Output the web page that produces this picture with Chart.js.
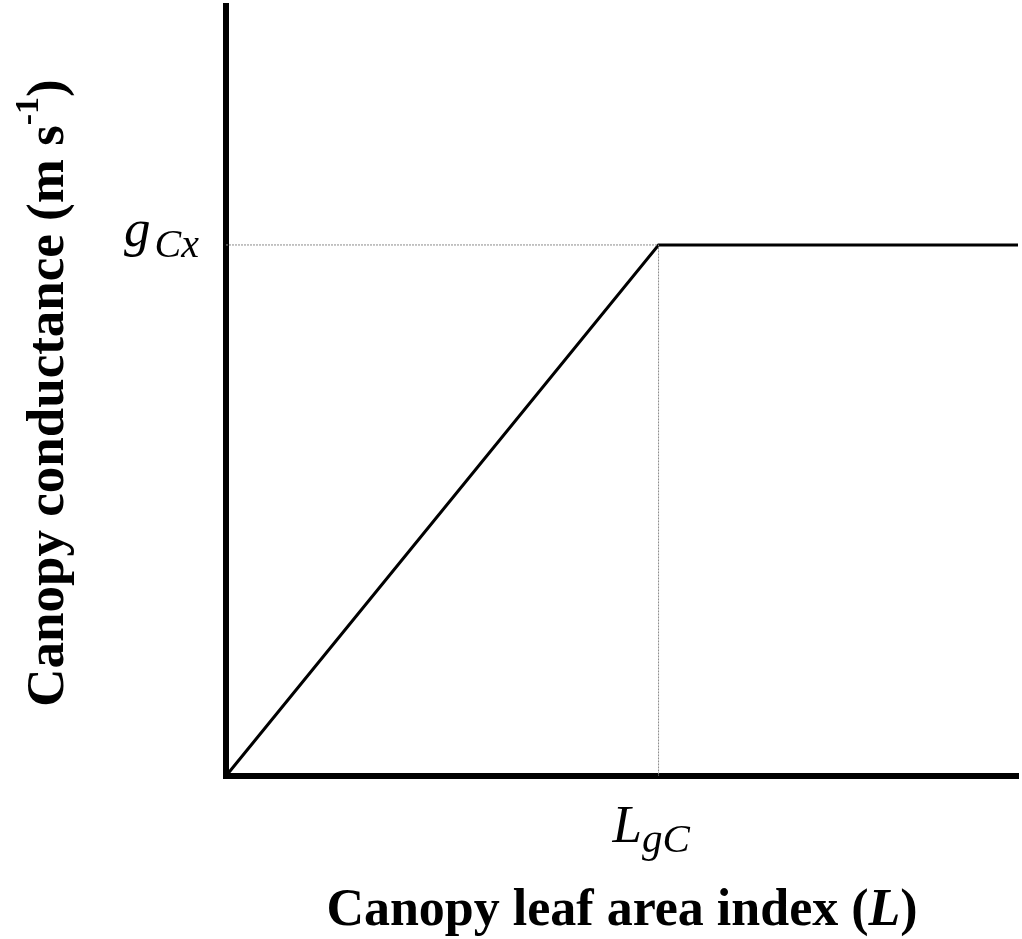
<!DOCTYPE html>
<html>
<head>
<meta charset="utf-8">
<script src="https://cdn.jsdelivr.net/npm/chart.js@4.4.0/dist/chart.umd.min.js"></script>
<style>
  html, body { margin: 0; padding: 0; background: #fff; }
  #wrap { width: 1022px; height: 939px; }
</style>
</head>
<body>
<div id="wrap"><canvas id="chart" width="1022" height="939"></canvas></div>
<script>
// leaf area index, in units of L_gC
const lai = [0, 1, 1.831];
// canopy conductance, in units of g_Cx
const conductance = [0, 1, 1];
// guide lines to the break point
const guideX = [0, 1, 1];
const guideY = [1, 1, 0];

const xMax = 1.831;
const yMax = 1.45;

const serif = '"Liberation Serif", "Times New Roman", serif';

function toPoints(xs, ys) {
  return xs.map((x, i) => ({ x, y: ys[i] }));
}

// axis labels with sub/superscripts drawn by hand
const labelPlugin = {
  id: 'labels',
  afterDraw(chart) {
    const ctx = chart.ctx;
    const xs = chart.scales.x;
    const ys = chart.scales.y;
    ctx.save();
    ctx.fillStyle = '#000';
    ctx.textBaseline = 'alphabetic';
    ctx.textAlign = 'left';

    // g_Cx on the y axis
    const gy = ys.getPixelForValue(1);
    ctx.font = 'italic 53px ' + serif;
    const gW = ctx.measureText('g').width;
    ctx.font = 'italic 40px ' + serif;
    const cxW = ctx.measureText('Cx').width;
    let x0 = xs.left - 27 - gW - cxW - 4;
    ctx.font = 'italic 53px ' + serif;
    ctx.fillText('g', x0, gy + 1);
    ctx.font = 'italic 40px ' + serif;
    ctx.fillText('Cx', x0 + gW + 4, gy + 12);

    // L_gC on the x axis
    const lx = xs.getPixelForValue(1);
    ctx.font = 'italic 53px ' + serif;
    const lW = ctx.measureText('L').width;
    ctx.fillText('L', lx - 46, 842);
    ctx.font = 'italic 41px ' + serif;
    ctx.fillText('gC', lx - 46 + lW, 852);

    // x title
    const p1 = 'Canopy leaf area index (';
    const p2 = 'L';
    const p3 = ')';
    ctx.font = 'bold 52px ' + serif;
    const w1 = ctx.measureText(p1).width;
    const w3 = ctx.measureText(p3).width;
    ctx.font = 'bold italic 52px ' + serif;
    const w2 = ctx.measureText(p2).width;
    let tx = 622 - (w1 + w2 + w3) / 2;
    ctx.font = 'bold 52px ' + serif;
    ctx.fillText(p1, tx, 925);
    ctx.font = 'bold italic 52px ' + serif;
    ctx.fillText(p2, tx + w1, 925);
    ctx.font = 'bold 52px ' + serif;
    ctx.fillText(p3, tx + w1 + w2, 925);

    // y title, rotated
    ctx.translate(63, 393);
    ctx.rotate(-Math.PI / 2);
    const q1 = 'Canopy conductance (m s';
    const q2 = '-1';
    const q3 = ')';
    ctx.font = 'bold 53px ' + serif;
    const v1 = ctx.measureText(q1).width;
    const v3 = ctx.measureText(q3).width;
    ctx.font = 'bold 34px ' + serif;
    const v2 = ctx.measureText(q2).width;
    const sx = -(v1 + v2 + v3) / 2;
    ctx.font = 'bold 53px ' + serif;
    ctx.fillText(q1, sx, 0);
    ctx.font = 'bold 34px ' + serif;
    ctx.fillText(q2, sx + v1, -25);
    ctx.font = 'bold 53px ' + serif;
    ctx.fillText(q3, sx + v1 + v2, 0);
    ctx.restore();
  }
};

new Chart(document.getElementById('chart'), {
  type: 'scatter',
  data: {
    datasets: [
      {
        data: toPoints(guideX, guideY),
        showLine: true,
        borderColor: '#8a8a8a',
        borderWidth: 1,
        borderDash: [2, 1],
        pointRadius: 0,
      },
      {
        data: toPoints(lai, conductance),
        showLine: true,
        borderColor: '#000',
        borderWidth: 3,
        pointRadius: 0,
      },
    ],
  },
  options: {
    responsive: false,
    animation: false,
    layout: { padding: { left: 218, top: 6, right: 4, bottom: 155 } },
    plugins: { legend: { display: false }, tooltip: { enabled: false } },
    scales: {
      x: {
        type: 'linear',
        min: 0,
        max: xMax,
        grid: { display: false },
        ticks: { display: false },
        border: { display: true, color: '#000', width: 6 },
      },
      y: {
        type: 'linear',
        min: 0,
        max: yMax,
        grid: { display: false },
        ticks: { display: false },
        border: { display: true, color: '#000', width: 6 },
      },
    },
  },
  plugins: [labelPlugin],
});
</script>
</body>
</html>
